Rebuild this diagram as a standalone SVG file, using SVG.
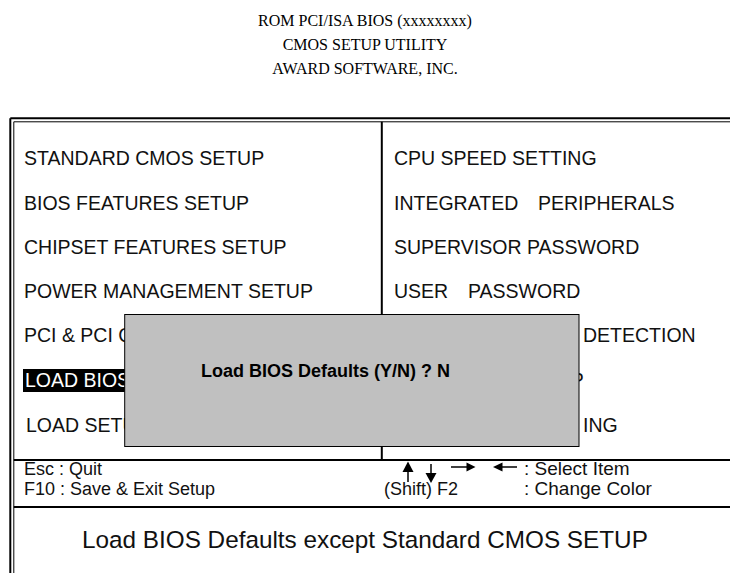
<svg xmlns="http://www.w3.org/2000/svg" width="730" height="573" viewBox="0 0 730 573">
  <style>
    .title { font-family: "Liberation Serif", "Times New Roman", serif; font-size: 16px; fill: #000; text-anchor: middle; }
    .item { font-family: "Liberation Sans", Arial, sans-serif; font-size: 19.5px; fill: #111; }
    .key { font-family: "Liberation Sans", Arial, sans-serif; font-size: 18px; fill: #111; }
    .key-r { font-family: "Liberation Sans", Arial, sans-serif; font-size: 19px; fill: #111; }
    .help { font-family: "Liberation Sans", Arial, sans-serif; font-size: 24.3px; fill: #111; }
    .prompt { font-family: "Liberation Sans", Arial, sans-serif; font-size: 18px; font-weight: bold; fill: #000; }
    .rule { stroke: #000; fill: none; }
  </style>

  <!-- heading -->
  <g id="heading">
    <text class="title" x="365" y="25.5">ROM PCI/ISA BIOS (xxxxxxxx)</text>
    <text class="title" x="365" y="49.5">CMOS SETUP UTILITY</text>
    <text class="title" x="365" y="73.5">AWARD SOFTWARE, INC.</text>
  </g>

  <!-- screen frame: double border, column divider, footer rules -->
  <g id="frame">
    <line class="rule" x1="10.3" y1="118.3" x2="730" y2="118.3" stroke-width="2"/>
    <line class="rule" x1="10.3" y1="118.3" x2="10.3" y2="573" stroke-width="2"/>
    <line class="rule" x1="13.8" y1="121.8" x2="730" y2="121.8" stroke-width="1"/>
    <line class="rule" x1="13.8" y1="121.8" x2="13.8" y2="573" stroke-width="1"/>
    <line class="rule" x1="381.8" y1="121.8" x2="381.8" y2="460" stroke-width="2"/>
    <line class="rule" x1="13.8" y1="460" x2="730" y2="460" stroke-width="2"/>
    <line class="rule" x1="13.8" y1="507" x2="730" y2="507" stroke-width="2"/>
  </g>

  <!-- left menu column -->
  <g id="menu-left">
    <text class="item" x="24" y="165">STANDARD CMOS SETUP</text>
    <text class="item" x="24" y="209.5">BIOS FEATURES SETUP</text>
    <text class="item" x="24" y="253.5">CHIPSET FEATURES SETUP</text>
    <text class="item" x="24" y="298">POWER MANAGEMENT SETUP</text>
    <text class="item" x="24" y="342">PCI &amp; PCI C</text>
    <rect x="23" y="369" width="110" height="23" fill="#000"/>
    <text class="item" x="25" y="387" style="fill:#fff">LOAD BIOS</text>
    <text class="item" x="26" y="432">LOAD SETU</text>
  </g>

  <!-- right menu column -->
  <g id="menu-right">
    <text class="item" x="394" y="165">CPU SPEED SETTING</text>
    <text class="item" x="394" y="209.5">INTEGRATED</text>
    <text class="item" x="538" y="209.5">PERIPHERALS</text>
    <text class="item" x="394" y="253.5">SUPERVISOR PASSWORD</text>
    <text class="item" x="394" y="298">USER</text>
    <text class="item" x="468" y="298">PASSWORD</text>
    <text class="item" x="583" y="342">DETECTION</text>
    <text class="item" x="570.7" y="387">P</text>
    <text class="item" x="583" y="432">ING</text>
  </g>

  <!-- confirmation dialog -->
  <g id="dialog">
    <rect x="124.7" y="314.5" width="454.3" height="132" fill="#c0c0c0" stroke="#000" stroke-width="1"/>
    <text class="prompt" x="201" y="377">Load BIOS Defaults (Y/N) ? N</text>
  </g>

  <!-- key legend -->
  <g id="keys">
    <text class="key" x="24" y="474.5">Esc : Quit</text>
    <text class="key" x="24" y="495">F10 : Save &amp; Exit Setup</text>
    <text class="key" x="384" y="495">(Shift) F2</text>
    <text class="key-r" x="524" y="474.5">: Select Item</text>
    <text class="key-r" x="524" y="495">: Change Color</text>
  </g>

  <!-- cursor arrows -->
  <g id="arrows" fill="#000" stroke="#000">
    <line x1="408" y1="471" x2="408" y2="482" stroke-width="1.5"/>
    <polygon points="408,461.5 402.5,472 413.5,472" stroke="none"/>
    <line x1="431" y1="464" x2="431" y2="474" stroke-width="1.5"/>
    <polygon points="431,483 425.5,473 436.5,473" stroke="none"/>
    <line x1="451" y1="467" x2="467" y2="467" stroke-width="1.5"/>
    <polygon points="475.5,467 466.5,462.5 466.5,471.5" stroke="none"/>
    <line x1="502" y1="467" x2="517" y2="467" stroke-width="1.5"/>
    <polygon points="493,467 502.5,462.5 502.5,471.5" stroke="none"/>
  </g>

  <!-- help line -->
  <g id="help">
    <text class="help" x="82" y="548">Load BIOS Defaults except Standard CMOS SETUP</text>
  </g>
</svg>
